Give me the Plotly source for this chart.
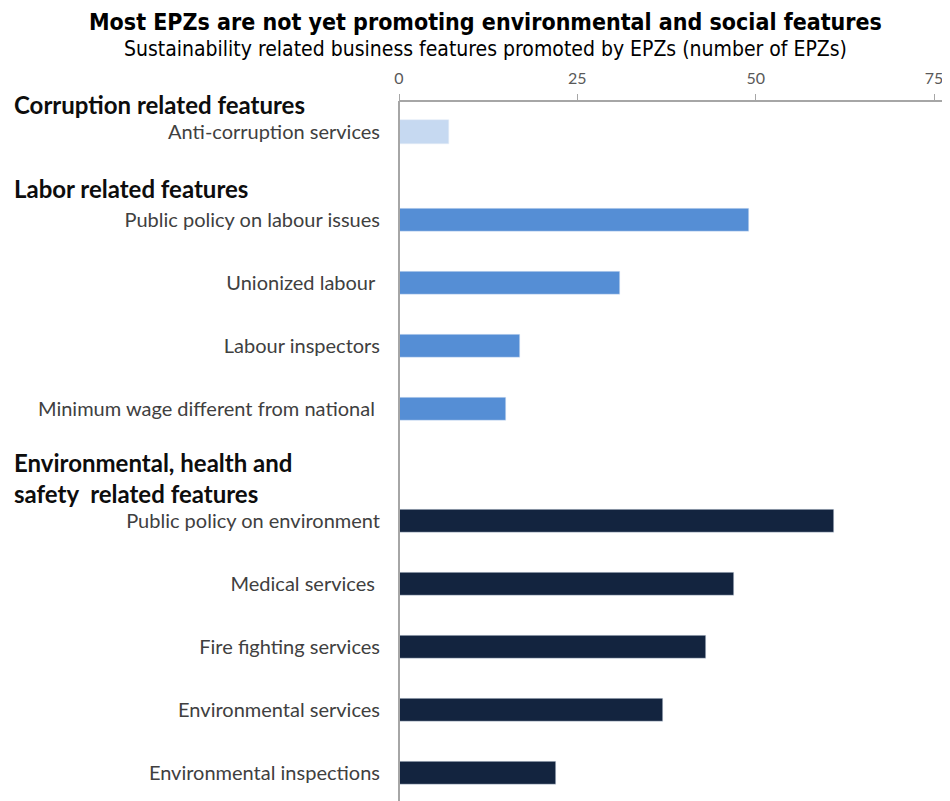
import plotly.graph_objects as go

# Data
corruption_labels = ["Anti-corruption services"]
corruption_values = [7]
labor_labels = ["Public policy on labour issues", "Unionized labour ", "Labour inspectors",
                "Minimum wage different from national "]
labor_values = [49, 31, 17, 15]
env_labels = ["Public policy on environment", "Medical services ", "Fire fighting services",
              "Environmental services", "Environmental inspections"]
env_values = [61, 47, 43, 37, 22]
x_ticks = [0, 25, 50, 75]

C_LIGHT = "#c6d9f1"
C_MID = "#558ed5"
C_DARK = "#13243f"

# page body has an 8px margin; work in reference pixel coordinates
OFF = 8
REF_W, REF_H = 950, 801
W, H = REF_W - OFF, REF_H - OFF
TOP_REF = 101
plot_h = REF_H - TOP_REF
L_REF = 399
R = 2
plot_w = REF_W - L_REF - R

def py(pix):
    return (REF_H - pix) / plot_h

def xpaper(pix):
    return (pix - L_REF) / plot_w

LBL_FONT = dict(family="Lato, Open Sans, sans-serif", size=20, color="#404040")

fig = go.Figure()
fig.add_trace(go.Bar(x=corruption_values, y=corruption_labels, orientation="h",
                     marker_color=C_LIGHT, width=0.38, xaxis="x", yaxis="y"))
fig.add_trace(go.Bar(x=labor_values, y=labor_labels, orientation="h",
                     marker_color=C_MID, width=0.38, xaxis="x", yaxis="y2"))
fig.add_trace(go.Bar(x=env_values, y=env_labels, orientation="h",
                     marker_color=C_DARK, width=0.38, xaxis="x", yaxis="y3"))

def yax(domain, n, bottom_trim=0.0):
    return dict(domain=domain, anchor="x", type="category",
                range=[n - 0.5 - bottom_trim, -0.5], showgrid=False, zeroline=False,
                showline=False, ticks="outside", ticklen=14, tickcolor="rgba(0,0,0,0)",
                tickfont=LBL_FONT, fixedrange=True)

fig.update_layout(
    width=W, height=H,
    margin=dict(l=L_REF - OFF, r=R, t=TOP_REF - OFF, b=0),
    paper_bgcolor="white", plot_bgcolor="white",
    showlegend=False, bargap=0,
    xaxis=dict(range=[0, plot_w / ((934 - 399) / 75)], side="top", anchor="free", position=1,
               tickvals=x_ticks, ticks="outside", ticklen=6, tickcolor="#a6a6a6",
               ticklabelstandoff=4,
               showline=True, linecolor="#a6a6a6", linewidth=2, showgrid=False,
               zeroline=False, tickfont=dict(family="Lato, Open Sans, sans-serif", size=16, color="#595959")),
    yaxis=yax([py(163.5), 1.0], 1),
    yaxis2=yax([py(440.5), py(188.5)], 4),
    yaxis3=yax([0.0, py(489.5)], 5, bottom_trim=3.5 / 63),
    shapes=[dict(type="line", xref="x domain", yref="paper", x0=0, x1=0, y0=0, y1=1,
                 line=dict(color="#a6a6a6", width=2))],
)

HDR_FONT = dict(family="Lato, Open Sans, sans-serif", size=24, color="#0d0d0d")
headers = [("<b>Corruption related features</b>", 104),
           ("<b>Labor related features</b>", 188),
           ("<b>Environmental, health and</b>", 462),
           ("<b>safety  related features</b>", 493)]
for txt, yp in headers:
    fig.add_annotation(text=txt, xref="paper", yref="paper", x=xpaper(12), y=py(yp),
                       xanchor="left", yanchor="middle", showarrow=False, font=HDR_FONT)

TITLE_FAM = "DejaVu Sans Condensed, Liberation Sans Narrow, Liberation Sans, Arial, sans-serif"
fig.add_annotation(text="<b>Most EPZs are not yet promoting environmental and social features</b>",
                   xref="paper", yref="paper", x=xpaper(485), y=py(22),
                   xanchor="center", yanchor="middle", showarrow=False,
                   font=dict(family=TITLE_FAM, size=23, color="#000000"))
fig.add_annotation(text="Sustainability related business features promoted by EPZs (number of EPZs)",
                   xref="paper", yref="paper", x=xpaper(485), y=py(49),
                   xanchor="center", yanchor="middle", showarrow=False,
                   font=dict(family=TITLE_FAM, size=21, color="#000000"))

fig.write_html("out.html")
